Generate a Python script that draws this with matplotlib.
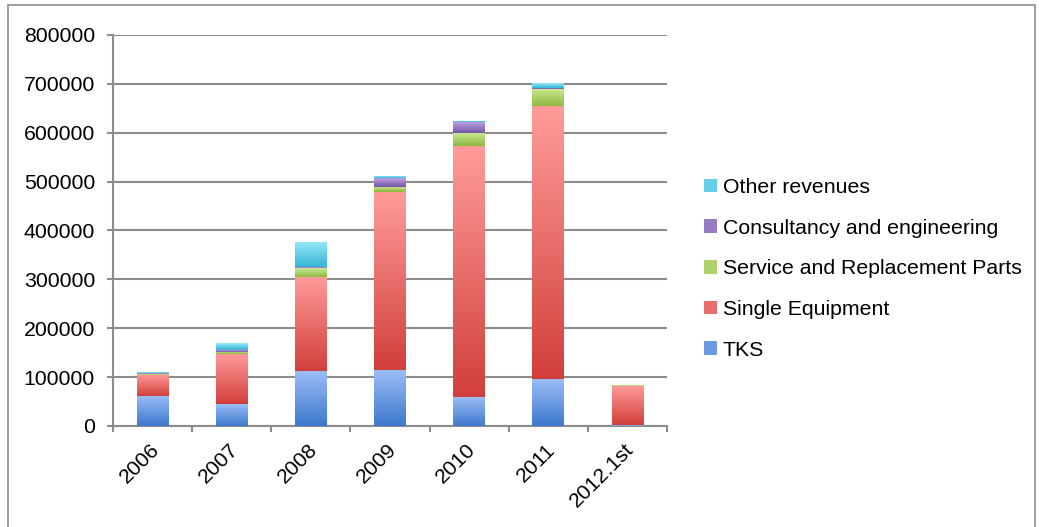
import numpy as np
import matplotlib
matplotlib.use("Agg")
import matplotlib.pyplot as plt
import matplotlib.transforms as mtransforms
from matplotlib.colors import LinearSegmentedColormap
from matplotlib.patches import Rectangle, Patch

# ==========================================
# Revenue data by business line
# ==========================================

years = ["2006", "2007", "2008", "2009", "2010", "2011", "2012.1st"]

tks = [62000, 44000, 112000, 114000, 59000, 96000, 2000]
single_equipment = [43000, 103000, 193000, 364000, 514000, 558000, 80000]
service_parts = [2000, 5000, 18000, 11000, 27000, 35000, 1000]
consultancy = [500, 4000, 2000, 18000, 21000, 3000, 1000]
other_revenues = [2000, 13000, 51000, 4000, 4000, 9000, 500]

series = [
    ("TKS", tks, "#9bbdf7", "#3d78cc"),
    ("Single Equipment", single_equipment, "#ff9c9a", "#d13f3b"),
    ("Service and Replacement Parts", service_parts, "#cfea96", "#8cb83e"),
    ("Consultancy and engineering", consultancy, "#baa2e2", "#7455a6"),
    ("Other revenues", other_revenues, "#93e9f7", "#35b4d6"),
]

plt.rcParams["font.family"] = ["Liberation Sans", "DejaVu Sans"]
FS = 15.3

fig = plt.figure(figsize=(10.39, 5.27), dpi=100)
ax = fig.add_axes([0.1088, 0.1917, 0.5332, 0.7419])

# outer chart border
fig.patches.append(Rectangle((8 / 1039, -0.05), (1035 - 8) / 1039, 1.05 - 5 / 527,
                             transform=fig.transFigure, fill=False,
                             edgecolor="#8c8c8c", linewidth=1.2))

x = np.arange(len(years))
bottom = np.zeros(len(years))
gradient = np.linspace(0, 1, 256).reshape(-1, 1)

handles = []
for name, values, top_col, bot_col in series:
    cmap = LinearSegmentedColormap.from_list(name, [bot_col, top_col])
    bars = ax.bar(x, values, width=0.4, bottom=bottom, color="none",
                  edgecolor="none", zorder=3)
    for bar in bars:
        bx, by = bar.get_x(), bar.get_y()
        bw, bh = bar.get_width(), bar.get_height()
        if bh <= 0:
            continue
        img = ax.imshow(gradient, cmap=cmap, aspect="auto", origin="lower",
                        extent=[bx, bx + bw, by, by + bh], zorder=3)
        img.set_clip_path(bar)
    bottom += np.array(values)
    handles.append(Patch(facecolor=cmap(0.5), edgecolor="none", label=name))

# ==========================================
# Axes styling
# ==========================================

ax.set_xlim(-0.5, len(years) - 0.5)
ax.set_ylim(0, 800000)
ax.set_yticks(np.arange(0, 800001, 100000))
ax.set_yticklabels([str(v) for v in range(0, 800001, 100000)], fontsize=FS)

ax.yaxis.grid(True, color="#8c8c8c", linewidth=1.5, zorder=0)
ax.set_axisbelow(True)

ax.set_xticks(np.arange(-0.5, len(years), 1.0))
ax.set_xticklabels([])
ax.set_xticks(x, minor=True)
ax.set_xticklabels(years, minor=True, rotation=45, ha="right",
                   rotation_mode="anchor", fontsize=FS)
ax.tick_params(axis="x", which="major", length=4.5, width=1.5, color="#8c8c8c",
               direction="out")
ax.tick_params(axis="x", which="minor", length=0, pad=8)
ax.tick_params(axis="y", length=4.5, width=1.5, color="#8c8c8c", pad=8.5)

# nudge rotated year labels slightly left/down
offset = mtransforms.ScaledTranslation(-3 / 100, -3 / 100, fig.dpi_scale_trans)
for lab in ax.get_xticklabels(minor=True):
    lab.set_transform(lab.get_transform() + offset)

for side in ["top", "right"]:
    ax.spines[side].set_visible(False)
for side in ["left", "bottom"]:
    ax.spines[side].set_color("#8c8c8c")
    ax.spines[side].set_linewidth(1.5)

leg = fig.legend(handles=handles[::-1], loc="center left",
                 bbox_to_anchor=(0.659, 0.49), frameon=False,
                 fontsize=FS, handlelength=0.6, handleheight=0.6,
                 handletextpad=0.3, labelspacing=1.02)

fig.savefig("out.png", dpi=100)
